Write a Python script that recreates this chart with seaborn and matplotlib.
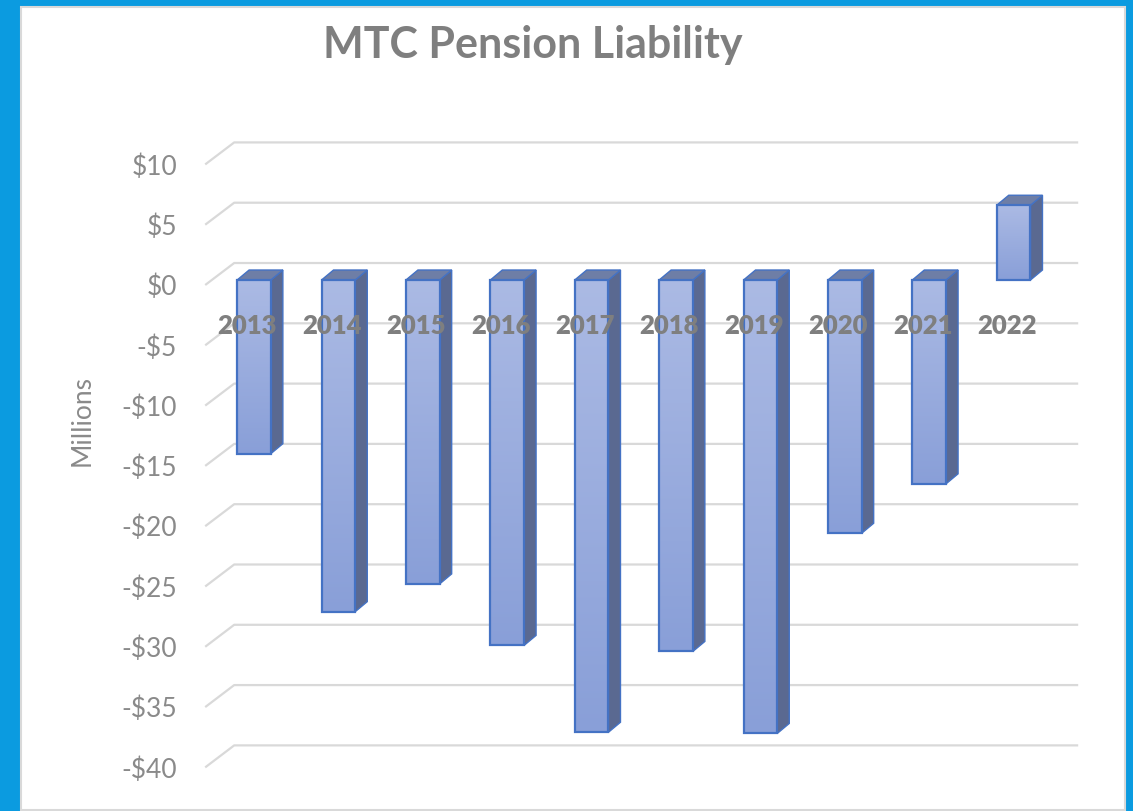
import numpy as np
import pandas as pd
import matplotlib
matplotlib.use("Agg")
import matplotlib.pyplot as plt
from matplotlib.patches import Rectangle, Polygon
from matplotlib.colors import LinearSegmentedColormap
from matplotlib.transforms import ScaledTranslation
import seaborn as sns

# dados (milhões de dólares)
anos = ["2013", "2014", "2015", "2016", "2017", "2018", "2019", "2020", "2021", "2022"]
passivo = [-14.4, -27.5, -25.2, -30.3, -37.5, -30.8, -37.6, -21.0, -16.9, 6.2]
marcas_y = list(range(-40, 11, 5))

titulo = "MTC Pension Liability"
rotulo_y = "Millions"

AZUL_FUNDO = "#0b9be0"
CINZA_GRADE = "#d9d9d9"
CINZA_TEXTO = "#7f7f7f"
BORDA_BARRA = "#4472c4"
LATERAL = "#5a6991"
TOPO = "#6e7ea6"

sns.set_theme(style="white")
plt.rcParams["font.family"] = ["Lato", "DejaVu Sans"]

W, H, DPI = 1133, 811, 100
fig = plt.figure(figsize=(W / DPI, H / DPI), dpi=DPI, facecolor=AZUL_FUNDO)

# painel branco
painel = Rectangle((21 / W, 1 / H), (1125 - 21) / W, (804 - 1) / H,
                   transform=fig.transFigure, facecolor="white",
                   edgecolor=CINZA_GRADE, lw=1.5, zorder=-5)
fig.patches.append(painel)

# eixo no plano das barras
ymin, ymax = -42, 12
ax = fig.add_axes([211.8 / W, 24.5 / H, 844 / W, 651.2 / H])
ax.set_facecolor("none")
ax.set_zorder(1)

df = pd.DataFrame({"ano": anos, "valor": passivo})
sns.barplot(data=df, x="ano", y="valor", width=0.4, color="#9aaee0",
            ax=ax, zorder=3)
barras = list(ax.patches)

ax.set_xlim(-0.5, len(anos) - 0.5)
ax.set_ylim(ymin, ymax)
sns.despine(ax=ax, left=True, bottom=True)
ax.set_xlabel("")
ax.set_ylabel("")
ax.tick_params(axis="x", labelbottom=False, length=0)

# deslocamentos 3D em pixels
FRENTE = (-6.6, -5)
FUNDO = (22.4, 17)
PROF = (12, 10)


def desloca(x, y, d):
    p = ax.transData.transform((x, y)) + np.array(d)
    return ax.transData.inverted().transform(p)


# grade no fundo com a parede lateral inclinada
for v in marcas_y:
    a = desloca(-0.5, v, FRENTE)
    b = desloca(-0.5, v, FUNDO)
    c = desloca(len(anos) - 0.5, v, FUNDO)
    ax.plot([a[0], b[0], c[0]], [a[1], b[1], c[1]], color=CINZA_GRADE,
            lw=1.6, zorder=1, clip_on=False, solid_capstyle="butt")

# barras com gradiente e faces 3D
grad = LinearSegmentedColormap.from_list("g", ["#abbae4", "#899fd8"])
for p in barras:
    x0, x1 = p.get_x(), p.get_x() + p.get_width()
    y0, y1 = p.get_y(), p.get_y() + p.get_height()
    ytop, ybot = max(y0, y1), min(y0, y1)

    lado = [(x1, ytop), (x1, ybot), tuple(desloca(x1, ybot, PROF)),
            tuple(desloca(x1, ytop, PROF))]
    ax.add_patch(Polygon(lado, closed=True, facecolor=LATERAL,
                         edgecolor=BORDA_BARRA, lw=1, zorder=2))
    topo = [(x0, ytop), (x1, ytop), tuple(desloca(x1, ytop, PROF)),
            tuple(desloca(x0, ytop, PROF))]
    ax.add_patch(Polygon(topo, closed=True, facecolor=TOPO,
                         edgecolor=BORDA_BARRA, lw=1, zorder=2))

    img = ax.imshow(np.linspace(0, 1, 256).reshape(-1, 1), cmap=grad,
                    extent=[x0, x1, ybot, ytop], origin="upper",
                    aspect="auto", zorder=2.5)
    img.set_clip_path(p)
    p.set_facecolor("none")
    p.set_edgecolor(BORDA_BARRA)
    p.set_linewidth(1.6)
    p.set_zorder(3)

ax.set_xlim(-0.5, len(anos) - 0.5)
ax.set_ylim(ymin, ymax)

# rótulos dos anos
for i, ano in enumerate(anos):
    ax.annotate(ano, (i, 0), xytext=(-6.6, -46), textcoords="offset pixels",
                ha="center", va="center", fontsize=18.5, fontweight="heavy",
                color=CINZA_TEXTO, zorder=6)

# eixo y
ax.set_yticks(marcas_y)
ax.set_yticklabels([f"${v}" if v >= 0 else f"-${-v}" for v in marcas_y])
ax.tick_params(axis="y", length=0, pad=25, labelsize=19, labelcolor="#8a8a8a")
for t in ax.get_yticklabels():
    t.set_transform(t.get_transform() + ScaledTranslation(0, -5 / DPI, fig.dpi_scale_trans))

fig.text(82 / W, 1 - 420 / H, rotulo_y, rotation=90, ha="center", va="center",
         fontsize=19, color="#8a8a8a")
fig.text(533 / W, 1 - 45 / H, titulo, ha="center", va="center",
         fontsize=31, fontweight="bold", color=CINZA_TEXTO)

fig.savefig("out.png", dpi=DPI, facecolor=AZUL_FUNDO)
